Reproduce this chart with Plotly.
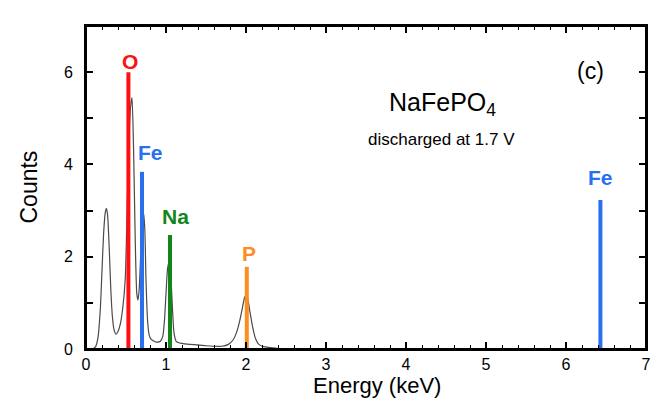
import plotly.graph_objects as go

# Spectrum
energy = [0.00, 0.08, 0.12, 0.15, 0.18, 0.20, 0.22, 0.24, 0.255, 0.27, 0.29, 0.31, 0.33, 0.35, 0.375,
          0.40, 0.43, 0.46, 0.49, 0.51, 0.53, 0.555, 0.575, 0.595, 0.615, 0.635, 0.65, 0.665, 0.685, 0.705,
          0.72, 0.735, 0.75, 0.77, 0.79, 0.81, 0.84, 0.88, 0.93, 0.96, 0.98, 1.00, 1.02, 1.04, 1.06,
          1.08, 1.10, 1.13, 1.20, 1.30, 1.40, 1.50, 1.60, 1.70, 1.78, 1.84, 1.88, 1.92, 1.95, 1.98,
          2.00, 2.02, 2.05, 2.08, 2.12, 2.16, 2.22, 2.30, 2.40, 2.60]
counts = [0.00, 0.00, 0.05, 0.25, 0.90, 1.70, 2.50, 2.95, 3.05, 2.90, 2.20, 1.30, 0.70, 0.42, 0.32,
          0.38, 0.55, 0.90, 1.50, 2.70, 4.20, 5.20, 5.45, 4.30, 2.40, 1.20, 1.06, 1.30, 2.10, 2.80,
          2.94, 2.60, 1.50, 0.60, 0.30, 0.22, 0.18, 0.15, 0.17, 0.28, 0.60, 1.20, 1.75, 1.89, 1.60,
          0.90, 0.35, 0.16, 0.12, 0.10, 0.09, 0.07, 0.06, 0.06, 0.10, 0.20, 0.35, 0.60, 0.85, 1.10,
          1.17, 1.10, 0.80, 0.50, 0.22, 0.10, 0.05, 0.03, 0.01, 0.00]

# Element marker lines
elements = ["O", "Fe", "Na", "P", "Fe"]
element_energy = [0.53, 0.70, 1.05, 2.01, 6.43]
element_height = [6.0, 3.84, 2.47, 1.78, 3.23]
label_x = [0.55, 0.81, 1.12, 2.04, 6.43]
label_y = [6.22, 4.25, 2.87, 2.07, 3.71]
element_colors = ["#ff1010", "#2a6ff0", "#13851a", "#ff8c1e", "#2a6ff0"]

# Y tick positions/labels
y_tickvals = [0, 1, 2, 3, 4, 5, 6, 7]
y_ticktext = ["0", "", "2", "", "4", "", "6", ""]

FONT = "Liberation Sans, Arial, sans-serif"

fig = go.Figure()
fig.add_trace(go.Scatter(x=energy, y=counts, mode="lines",
                         line=dict(color="#4a4a4a", width=1.2, shape="spline", smoothing=0.6),
                         showlegend=False))
for name, e, h, c in zip(elements, element_energy, element_height, element_colors):
    fig.add_trace(go.Scatter(x=[e, e], y=[0, h], mode="lines", line=dict(color=c, width=4), showlegend=False))
for name, lx, ly, c in zip(elements, label_x, label_y, element_colors):
    fig.add_annotation(x=lx, y=ly, text=f"<b>{name}</b>", showarrow=False,
                       font=dict(size=21, color=c, family=FONT))

fig.add_annotation(x=4.45, y=5.3, text="NaFePO<sub>4</sub>", showarrow=False,
                   font=dict(size=25, color="black", family=FONT))
fig.add_annotation(x=4.44, y=4.55, text="discharged at 1.7 V", showarrow=False,
                   font=dict(size=17, color="black", family=FONT))
fig.add_annotation(x=6.3, y=6.03, text="(c)", showarrow=False,
                   font=dict(size=23, color="black", family=FONT))

# Axis titles as paper-anchored text
fig.add_annotation(xref="paper", yref="paper", x=0.52, y=0, yanchor="top", yshift=-22,
                   text="Energy (keV)", showarrow=False, font=dict(size=22, color="black", family=FONT))
fig.add_annotation(xref="paper", yref="paper", x=0, y=0.5, xanchor="center", xshift=-58, textangle=-90,
                   text="Counts", showarrow=False, font=dict(size=23, color="black", family=FONT))

# Plot frame
fig.add_shape(type="rect", xref="x domain", yref="y domain", x0=0, x1=1, y0=0, y1=1,
              line=dict(color="#000000", width=2), layer="above")

fig.update_xaxes(range=[0, 7], dtick=1, showline=True, linecolor="#000000", linewidth=2,
                 mirror="allticks", ticks="inside", tickcolor="#000000", tickwidth=2, ticklen=7,
                 tickfont=dict(size=16, color="black", family=FONT),
                 minor=dict(ticks="inside", dtick=0.2, ticklen=4, tickcolor="#000000", tickwidth=1))
fig.update_yaxes(range=[0, 7], tickvals=y_tickvals, ticktext=y_ticktext, showline=True,
                 linecolor="#000000", linewidth=2, mirror="allticks", ticks="inside", tickcolor="#000000",
                 tickwidth=2, ticklen=7, ticklabelstandoff=8,
                 tickfont=dict(size=16, color="black", family=FONT))
fig.update_layout(width=654, height=406, margin=dict(l=86, r=3, t=26, b=57),
                  plot_bgcolor="white", paper_bgcolor="white")
fig.write_html("out.html")
